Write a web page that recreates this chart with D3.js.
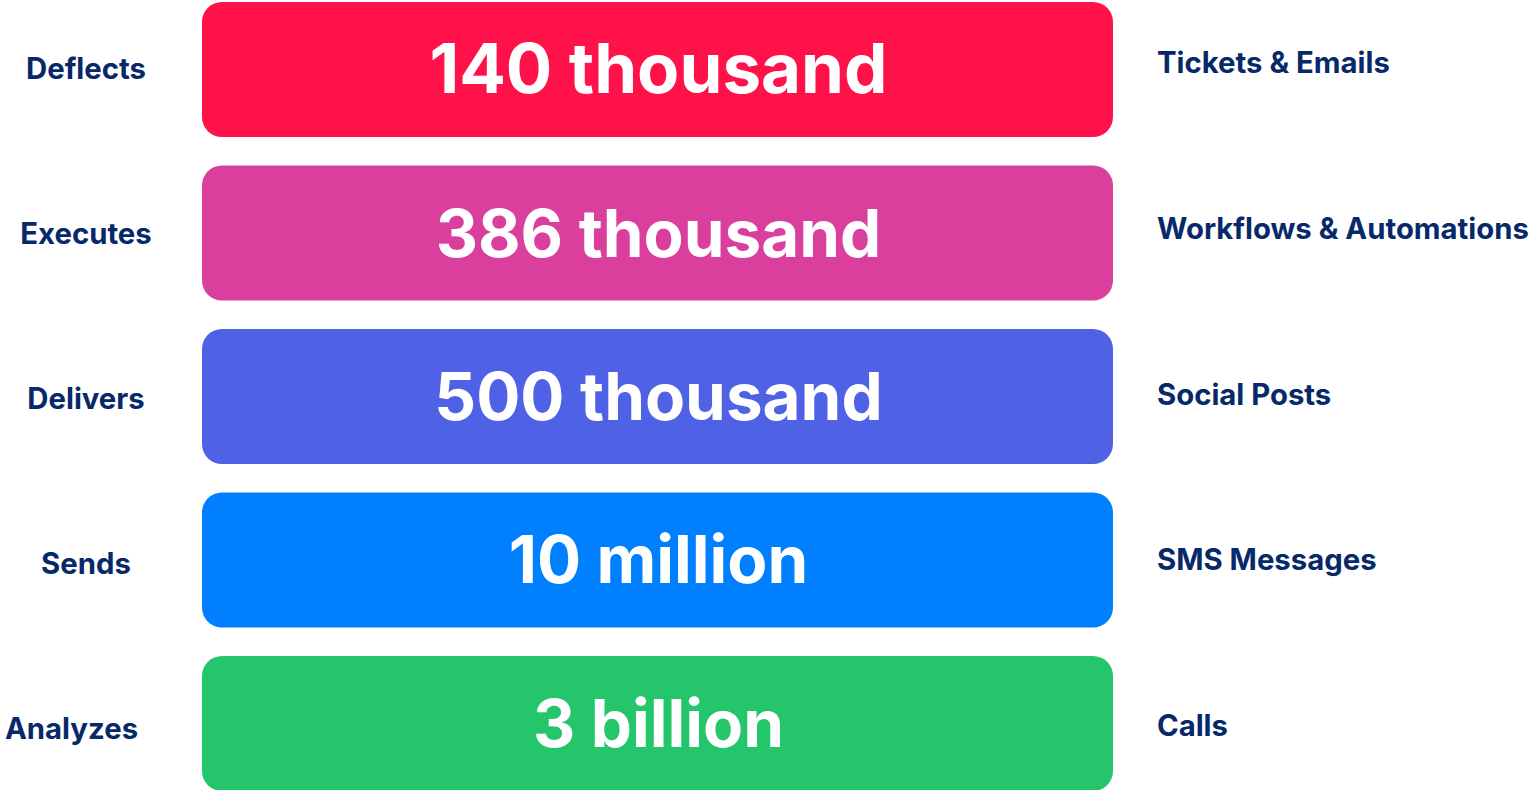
<!DOCTYPE html>
<html><head><meta charset="utf-8">
<script src="https://cdn.jsdelivr.net/npm/d3@7"></script>
<style>
html,body{margin:0;padding:0;background:#fff;}
svg{display:block;}
text{font-family:Inter,"Noto Sans",sans-serif;}
</style></head>
<body>
<svg id="chart" width="1529" height="790"></svg>
<script>
const verbs = ["Deflects","Executes","Delivers","Sends","Analyzes"];
const amounts = ["140 thousand","386 thousand","500 thousand","10 million","3 billion"];
const objects = ["Tickets & Emails","Workflows & Automations","Social Posts","SMS Messages","Calls"];
const colors = ["#FF1249","#DA3F9E","#4F62E5","#007FFF","#24C56B"];

const svg = d3.select("#chart");
const y = d3.scaleBand().domain(verbs).range([2, 791]).paddingInner(0.174).paddingOuter(0);
const x = d3.scaleLinear().domain([0,1]).range([202, 1113]);
const yLeft = d3.scalePoint().domain(verbs).range([79, 739]);
const yRight = d3.scalePoint().domain(verbs).range([73, 736]);
const navy = "#07296A";
const amountSize = i => i === 0 ? 69 : 65.5;

const rows = svg.selectAll("g.row").data(verbs).join("g").attr("class","row");

rows.append("rect")
  .attr("x", x(0)).attr("width", x(1)-x(0))
  .attr("y", d => y(d)).attr("height", y.bandwidth())
  .attr("rx", 20).attr("ry", 20)
  .attr("fill", (d,i) => colors[i]);

rows.append("text")
  .attr("x", (x(0)+x(1))/2 + 1)
  .attr("y", d => y(d) + y.bandwidth()/2 + 23.5)
  .attr("text-anchor","middle")
  .attr("fill","#fff")
  .attr("font-size", (d,i) => amountSize(i))
  .attr("font-weight", 700)
  .text((d,i) => amounts[i]);

rows.append("text")
  .attr("x", (d,i) => i === verbs.length-1 ? 5 : 86)
  .attr("y", d => yLeft(d))
  .attr("text-anchor", (d,i) => i === verbs.length-1 ? "start" : "middle")
  .attr("fill", navy)
  .attr("font-size", 29.3)
  .attr("font-weight", 700)
  .text(d => d);

rows.append("text")
  .attr("x", 1157)
  .attr("y", d => yRight(d))
  .attr("text-anchor","start")
  .attr("fill", navy)
  .attr("font-size", 29.3)
  .attr("font-weight", 700)
  .text((d,i) => objects[i]);
</script>
</body></html>
